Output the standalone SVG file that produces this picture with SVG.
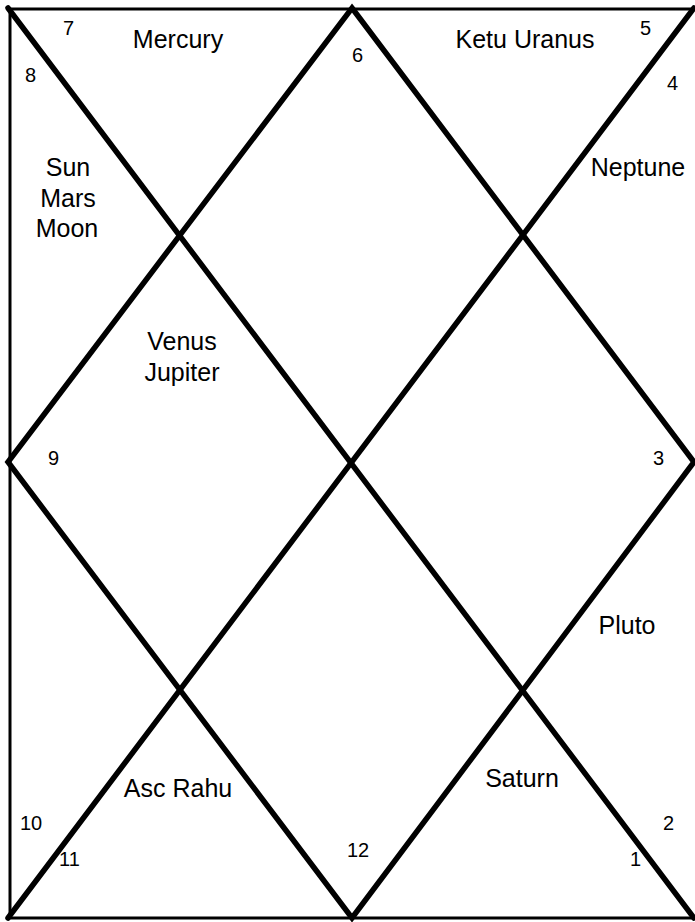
<svg xmlns="http://www.w3.org/2000/svg" width="695" height="922" viewBox="0 0 695 922">
<style>
.frame{stroke:#000;stroke-width:3;fill:none}
.diag{stroke:#000;stroke-width:5.5;fill:none;stroke-linecap:round}
text{font-family:"Liberation Sans",Arial,sans-serif;fill:#000}
.p{font-size:25px;text-anchor:middle}
.n{font-size:20px}
</style>
<rect width="695" height="922" fill="#fff"/>
<g id="connectors">
<path class="frame" d="M694,9 H10 V918 H694"/>
<line class="diag" x1="8" y1="8" x2="694" y2="918"/>
<line class="diag" x1="8" y1="918" x2="694" y2="8"/>
<polygon class="diag" points="352,8 694,462 352,918 8,462" stroke-linejoin="miter"/>
</g>
<g id="house1"><text class="n" x="630" y="866">1</text></g>
<g id="house2"><text class="n" x="663" y="830">2</text></g>
<g id="house3"><text class="n" x="653" y="465">3</text><text class="p" x="627" y="634">Pluto</text></g>
<g id="house4"><text class="n" x="667" y="90">4</text><text class="p" x="638" y="176">Neptune</text></g>
<g id="house5"><text class="n" x="640" y="35">5</text><text class="p" x="525" y="48">Ketu Uranus</text></g>
<g id="house6"><text class="n" x="352" y="62">6</text></g>
<g id="house7"><text class="n" x="63" y="35">7</text><text class="p" x="178" y="48">Mercury</text></g>
<g id="house8"><text class="n" x="25" y="82">8</text><text class="p" x="68" y="176">Sun</text><text class="p" x="68" y="207">Mars</text><text class="p" x="67" y="237">Moon</text></g>
<g id="house9"><text class="n" x="48" y="465">9</text><text class="p" x="182" y="350">Venus</text><text class="p" x="182" y="381">Jupiter</text></g>
<g id="house10"><text class="n" x="20" y="830">10</text></g>
<g id="house11"><text class="n" x="59" y="866">11</text><text class="p" x="178" y="797">Asc Rahu</text></g>
<g id="house12"><text class="n" x="347" y="857">12</text><text class="p" x="522" y="787">Saturn</text></g>
</svg>
